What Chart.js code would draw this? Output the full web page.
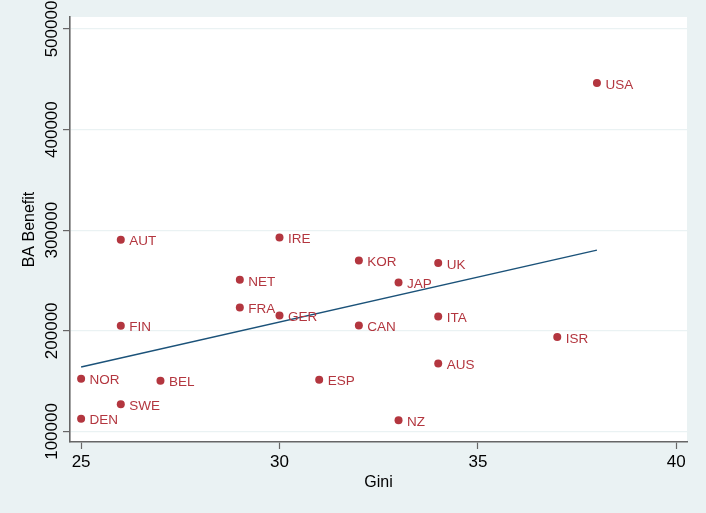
<!DOCTYPE html>
<html>
<head>
<meta charset="utf-8">
<script src="https://cdn.jsdelivr.net/npm/chart.js@4/dist/chart.umd.min.js"></script>
<style>
  html, body { margin: 0; padding: 0; background: #eaf2f3; }
  #wrap { width: 706px; height: 513px; }
</style>
</head>
<body>
<div id="wrap"><canvas id="chart" width="706" height="513"></canvas></div>
<script>

/* ------------------------------------------------ */
// data

let countries = ['USA', 'ISR', 'IRE', 'AUT', 'KOR', 'UK', 'NET', 'JAP', 'FRA', 'GER',
  'ITA', 'CAN', 'FIN', 'AUS', 'NOR', 'ESP', 'BEL', 'SWE', 'DEN', 'NZ'];
let gini = [38, 37, 30, 26, 32, 34, 29, 33, 29, 30,
  34, 32, 26, 34, 25, 31, 27, 26, 25, 33];
let benefit = [446400, 193800, 292800, 290500, 269900, 267300, 250700, 248100, 223300, 215300,
  214300, 205400, 205100, 167600, 152400, 151400, 150400, 126900, 112700, 111000];

// fitted line end points
let fitGini = [25, 38];
let fitBenefit = [164000, 280200];

let xTicks = [25, 30, 35, 40];
let yTicks = [100000, 200000, 300000, 400000, 500000];

/* ------------------------------------------------ */

const MAROON = '#b3363f';
const NAVY = '#1b5279';
const BG = '#eaf2f3';
const AXIS = '#666666';
const FONT = '"Liberation Sans", Arial, Helvetica, sans-serif';

let bgPlugin = {
  id: 'bg',
  beforeDraw(chart) {
    let ctx = chart.ctx;
    let a = chart.chartArea;
    ctx.save();
    ctx.fillStyle = BG;
    ctx.fillRect(0, 0, chart.width, chart.height);
    ctx.fillStyle = '#ffffff';
    ctx.fillRect(a.left, a.top, a.right - a.left, a.bottom - a.top);
    ctx.restore();
  },
};

let labelPlugin = {
  id: 'pointLabels',
  afterDatasetsDraw(chart) {
    let ctx = chart.ctx;
    let meta = chart.getDatasetMeta(0);
    ctx.save();
    ctx.fillStyle = MAROON;
    ctx.font = '13.5px ' + FONT;
    ctx.textAlign = 'left';
    ctx.textBaseline = 'middle';
    meta.data.forEach((pt, i) => {
      ctx.fillText(countries[i], pt.x + 8.5, pt.y + 2);
    });
    ctx.restore();
  },
};

function generateChart() {
  let ctx = document.getElementById('chart').getContext('2d');

  let points = gini.map((g, i) => ({ x: g, y: benefit[i] }));
  let fit = fitGini.map((g, i) => ({ x: g, y: fitBenefit[i] }));

  let config = {
    type: 'scatter',
    data: {
      datasets: [
        {
          label: 'BA Benefit',
          data: points,
          pointRadius: 4,
          pointBackgroundColor: MAROON,
          pointBorderColor: MAROON,
          pointBorderWidth: 0,
        },
        {
          type: 'line',
          label: 'Fitted values',
          data: fit,
          borderColor: NAVY,
          borderWidth: 1.5,
          pointRadius: 0,
          fill: false,
        },
      ],
    },
    options: {
      responsive: false,
      animation: false,
      layout: { padding: { left: 0, right: 19, top: 17, bottom: 0 } },
      plugins: {
        legend: { display: false },
        tooltip: { enabled: false },
      },
      scales: {
        x: {
          type: 'linear',
          min: 24.72,
          max: 40.27,
          afterBuildTicks: (axis) => { axis.ticks = xTicks.map((v) => ({ value: v })); },
          afterFit: (axis) => { axis.height = 71; },
          grid: {
            drawOnChartArea: false,
            drawTicks: true,
            tickLength: 7,
            tickColor: AXIS,
            tickWidth: 1.2,
          },
          border: { color: AXIS, width: 1.6 },
          ticks: {
            color: '#000',
            padding: 2.8,
            maxRotation: 0,
            font: { family: FONT, size: 17 },
          },
          title: {
            display: true,
            text: 'Gini',
            color: '#000',
            font: { family: FONT, size: 16, lineHeight: 1 },
            padding: { top: 0, bottom: 22 },
          },
        },
        y: {
          type: 'linear',
          min: 89500,
          max: 511900,
          afterBuildTicks: (axis) => { axis.ticks = yTicks.map((v) => ({ value: v })); },
          afterFit: (axis) => { axis.width = 70; },
          grid: {
            color: BG,
            lineWidth: 1.2,
            drawTicks: true,
            tickLength: 7,
            tickColor: AXIS,
            tickWidth: 1.2,
          },
          border: { color: AXIS, width: 1.6 },
          ticks: {
            color: '#000',
            minRotation: 90,
            maxRotation: 90,
            crossAlign: 'center',
            padding: -17.3,
            font: { family: FONT, size: 17 },
            callback: (v) => String(v),
          },
          title: {
            display: true,
            text: 'BA Benefit',
            color: '#000',
            font: { family: FONT, size: 16, lineHeight: 1 },
            padding: { top: 22, bottom: 0 },
          },
        },
      },
    },
    plugins: [bgPlugin, labelPlugin],
  };

  return new Chart(ctx, config);
}

let chart = generateChart();

</script>
</body>
</html>
